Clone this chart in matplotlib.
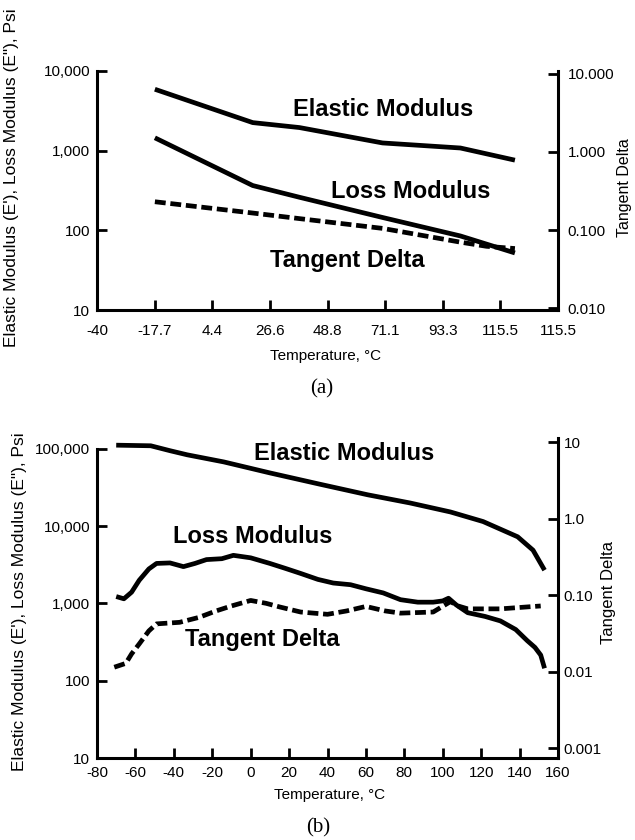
import matplotlib
matplotlib.use("Agg")
import matplotlib.pyplot as plt
from matplotlib.ticker import FixedLocator, NullLocator, FixedFormatter

plt.rcParams['font.family'] = ['Liberation Sans', 'DejaVu Sans']
plt.rcParams['axes.unicode_minus'] = False

# ---- chart (a) data: temperature in C, moduli in psi ----
a_ticks = [-40, -17.8, 4.4, 26.6, 48.8, 71.0, 93.2, 115.4, 137.6]
a_ticklabels = ["-40", "-17.7", "4.4", "26.6", "48.8", "71.1", "93.3", "115.5", "115.5"]

a_elastic_t = [-17.7, 20, 38, 70, 100, 121]
a_elastic = [5900, 2250, 1950, 1250, 1080, 760]

a_loss_t = [-17.7, 20, 38, 70, 100, 121]
a_loss = [1450, 365, 260, 145, 85, 52]

a_tan_t = [-17.7, 20, 38, 70, 100, 110, 121]
a_tan = [0.23, 0.165, 0.14, 0.105, 0.07, 0.062, 0.058]

# ---- chart (b) data ----
b_elastic_t = [-70, -52, -42, -33, -14, 10, 36, 61, 83, 104, 121, 139, 147, 153]
b_elastic = [112000, 110000, 95000, 84000, 68000, 49000, 35000, 25500, 20000,
             15300, 11500, 7300, 4900, 2700]

b_loss_t = [-70, -66, -62, -58, -53, -49, -42, -35, -29, -23, -15, -9, 0, 10, 18,
            26, 35, 43, 52, 60, 69, 78, 87, 95, 100, 103, 107, 113, 122, 130,
            138, 144, 148, 151, 153]
b_loss = [1230, 1150, 1400, 2000, 2800, 3300, 3350, 3000, 3300, 3700, 3800, 4200,
          3900, 3300, 2850, 2450, 2050, 1840, 1750, 1550, 1370, 1120, 1040, 1040,
          1080, 1170, 960, 760, 680, 595, 460, 330, 270, 215, 145]

b_tan_t = [-71, -65, -62, -58, -53, -49, -37, -27, -18, -10, 0, 8, 15, 26, 40,
           50, 60, 70, 78, 95, 104, 108, 113, 130, 151]
b_tan = [0.0114, 0.0128, 0.017, 0.023, 0.034, 0.042, 0.044, 0.051, 0.062, 0.072,
         0.085, 0.078, 0.070, 0.060, 0.056, 0.062, 0.071, 0.062, 0.058, 0.060,
         0.082, 0.072, 0.066, 0.066, 0.072]

left_a = [10, 100, 1000, 10000]
left_a_lab = ["10", "100", "1,000", "10,000"]
right_a = [0.01, 0.1, 1, 10]
right_a_lab = ["0.010", "0.100", "1.000", "10.000"]
left_b = [10, 100, 1000, 10000, 100000]
left_b_lab = ["10", "100", "1,000", "10,000", "100,000"]
right_b = [0.001, 0.01, 0.1, 1, 10]
right_b_lab = ["0.001", "0.01", "0.10", "1.0", "10"]
b_xticks = list(range(-80, 161, 20))

W, H = 635, 840
fig = plt.figure(figsize=(W / 100, H / 100), dpi=100)


def box(l, t, r, b):
    return [l / W, 1 - b / H, (r - l) / W, (b - t) / H]


def style(ax):
    for s in ['left', 'right', 'bottom', 'top']:
        ax.spines[s].set_linewidth(2.2)
    ax.spines['top'].set_visible(False)
    ax.tick_params(direction='in', length=7, width=2, labelsize=11)
    ax.yaxis.set_minor_locator(NullLocator())
    ax.xaxis.set_minor_locator(NullLocator())


line_kw = dict(color='black', lw=3.4, solid_capstyle='butt', solid_joinstyle='round')
dash_kw = dict(color='black', lw=3.4, ls=(0, (2.3, 1.0)))
bold_kw = dict(fontsize=17, fontweight='bold', ha='center', va='center')

# ---------------- (a) ----------------
ax = fig.add_axes(box(97, 71, 558, 310))
ax.set_yscale('log')
ax.set_xlim(-40, 137.6)
ax.set_ylim(10, 10000)
ax.plot(a_elastic_t, a_elastic, **line_kw)
ax.plot(a_loss_t, a_loss, **line_kw)
style(ax)
ax.spines['right'].set_visible(False)
ax.xaxis.set_major_locator(FixedLocator(a_ticks))
ax.xaxis.set_major_formatter(FixedFormatter(a_ticklabels))
ax.yaxis.set_major_locator(FixedLocator(left_a))
ax.yaxis.set_major_formatter(FixedFormatter(left_a_lab))
ax.tick_params(axis='x', pad=10)
ax.tick_params(axis='y', pad=5)
ax.set_xlabel("Temperature, °C", fontsize=11)
ax.xaxis.set_label_coords(0.495, -0.165)

ax2 = ax.twinx()
ax2.set_yscale('log')
ax2.set_ylim(0.0095, 10.8)
ax2.plot(a_tan_t, a_tan, **dash_kw)
style(ax2)
ax2.spines['left'].set_visible(False)
ax2.spines['bottom'].set_visible(False)
ax2.yaxis.set_major_locator(FixedLocator(right_a))
ax2.yaxis.set_major_formatter(FixedFormatter(right_a_lab))
ax2.tick_params(axis='y', pad=7)

ax.text(0.620, 0.837, "Elastic Modulus", transform=ax.transAxes, **bold_kw)
ax.text(0.681, 0.494, "Loss Modulus", transform=ax.transAxes, **bold_kw)
ax.text(0.542, 0.209, "Tangent Delta", transform=ax.transAxes, **bold_kw)

# ---------------- (b) ----------------
bx = fig.add_axes(box(97, 438, 558, 758))
bx.set_yscale('log')
bx.set_xlim(-80, 160)
bx.set_ylim(10, 138700)
bx.plot(b_elastic_t, b_elastic, **line_kw)
bx.plot(b_loss_t, b_loss, **line_kw)
style(bx)
bx.spines['right'].set_visible(False)
bx.spines['left'].set_bounds(10, 100000)
bx.xaxis.set_major_locator(FixedLocator(b_xticks))
bx.yaxis.set_major_locator(FixedLocator(left_b))
bx.yaxis.set_major_formatter(FixedFormatter(left_b_lab))
bx.tick_params(axis='x', pad=6)
bx.tick_params(axis='y', pad=5)
bx.set_xlabel("Temperature, °C", fontsize=11)
bx.xaxis.set_label_coords(0.505, -0.094)

bx2 = bx.twinx()
bx2.set_yscale('log')
bx2.set_ylim(0.000741, 11.3)
bx2.plot(b_tan_t, b_tan, **dash_kw)
style(bx2)
bx2.spines['left'].set_visible(False)
bx2.spines['bottom'].set_visible(False)
bx2.yaxis.set_major_locator(FixedLocator(right_b))
bx2.yaxis.set_major_formatter(FixedFormatter(right_b_lab))
bx2.tick_params(axis='y', pad=4)

bx.text(0.536, 0.953, "Elastic Modulus", transform=bx.transAxes, **bold_kw)
bx.text(0.338, 0.691, "Loss Modulus", transform=bx.transAxes, **bold_kw)
bx.text(0.358, 0.369, "Tangent Delta", transform=bx.transAxes, **bold_kw)

# axis titles and panel letters
ylab = "Elastic Modulus (E'), Loss Modulus (E\"), Psi"
fig.text(12 / W, 1 - 178 / H, ylab, rotation=90, ha='center', va='center', fontsize=12.5)
fig.text(20 / W, 1 - 602 / H, ylab, rotation=90, ha='center', va='center', fontsize=12.5)
fig.text(624 / W, 1 - 188 / H, "Tangent Delta", rotation=90, ha='center', va='center', fontsize=11.5)
fig.text(608 / W, 1 - 592 / H, "Tangent Delta", rotation=90, ha='center', va='center', fontsize=12)
fig.text(322 / W, 1 - 389 / H, "(a)", ha='center', va='center', fontsize=15,
         family=['Liberation Serif', 'DejaVu Serif'])
fig.text(318 / W, 1 - 828 / H, "(b)", ha='center', va='center', fontsize=15,
         family=['Liberation Serif', 'DejaVu Serif'])

fig.savefig("out.png", dpi=100)
